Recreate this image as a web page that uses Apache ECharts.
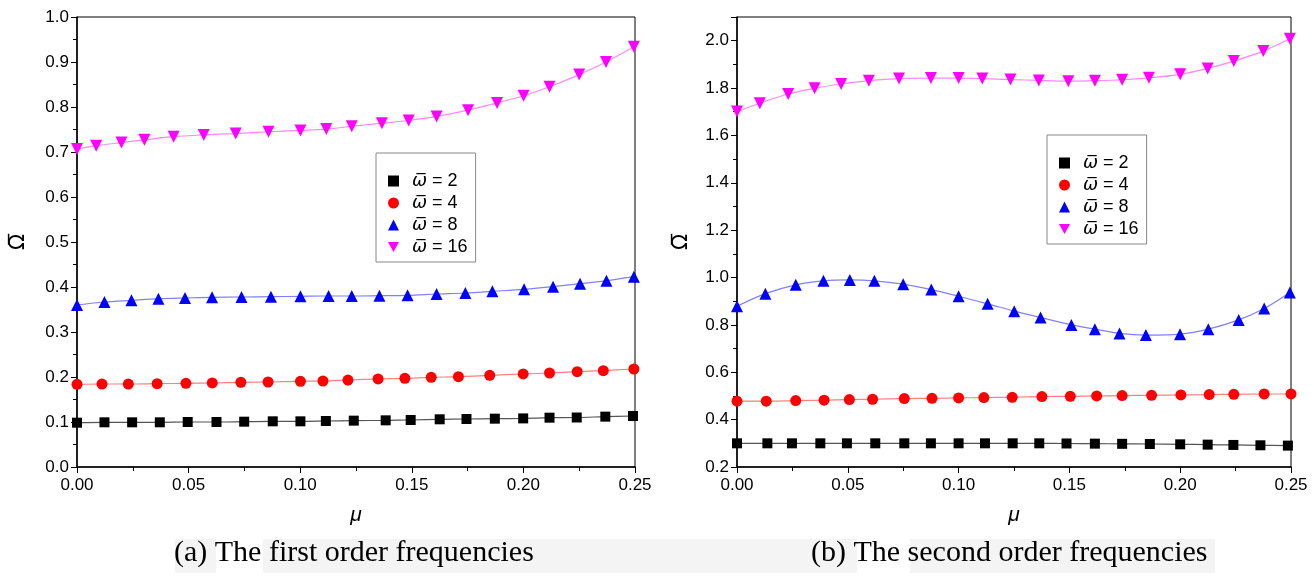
<!DOCTYPE html>
<html>
<head>
<meta charset="utf-8">
<script src="https://cdn.jsdelivr.net/npm/echarts@6/dist/echarts.min.js"></script>
<style>
  html, body { margin: 0; padding: 0; background: #fff; }
  #chart { width: 1314px; height: 576px; }
</style>
</head>
<body>
<div id="chart"></div>
<script>
// (a) first order frequencies
const muA2 = [0, 0.0123, 0.0247, 0.0371, 0.0496, 0.0625, 0.0749, 0.0877, 0.1001, 0.1115, 0.1240, 0.1383, 0.1495, 0.1625, 0.1745, 0.1872, 0.1999, 0.2117, 0.2239, 0.2367, 0.2491];
const omA2 = [0.0985, 0.0993, 0.0993, 0.0993, 0.1000, 0.1000, 0.1007, 0.1015, 0.1015, 0.1022, 0.1030, 0.1037, 0.1044, 0.1060, 0.1067, 0.1074, 0.1080, 0.1096, 0.1100, 0.1119, 0.1133];
const muA4 = [0, 0.0112, 0.0230, 0.0359, 0.0488, 0.0606, 0.0734, 0.0856, 0.1001, 0.1102, 0.1214, 0.1349, 0.1469, 0.1587, 0.1709, 0.1849, 0.1999, 0.2117, 0.2241, 0.2358, 0.2495];
const omA4 = [0.1837, 0.1844, 0.1844, 0.1852, 0.1859, 0.1867, 0.1881, 0.1889, 0.1904, 0.1911, 0.1933, 0.1956, 0.1970, 0.1993, 0.2007, 0.2037, 0.2067, 0.2089, 0.2119, 0.2141, 0.2178];
const muA8 = [0, 0.0123, 0.0244, 0.0365, 0.0484, 0.0605, 0.0737, 0.0869, 0.1001, 0.1127, 0.1231, 0.1355, 0.1481, 0.1611, 0.1740, 0.1861, 0.2003, 0.2133, 0.2254, 0.2372, 0.2495];
const omA8 = [0.360, 0.3667, 0.3704, 0.374, 0.3756, 0.377, 0.3778, 0.3785, 0.3793, 0.380, 0.380, 0.3807, 0.3815, 0.3844, 0.3867, 0.3904, 0.3948, 0.4007, 0.4074, 0.414, 0.4230];
const muA16 = [0, 0.0086, 0.0199, 0.0302, 0.0433, 0.0568, 0.0711, 0.0858, 0.1001, 0.1117, 0.1231, 0.1366, 0.1486, 0.1611, 0.1752, 0.1882, 0.2001, 0.2117, 0.2250, 0.2370, 0.2495];
const omA16 = [0.7067, 0.714, 0.721, 0.727, 0.734, 0.738, 0.741, 0.745, 0.748, 0.751, 0.757, 0.764, 0.770, 0.779, 0.793, 0.809, 0.825, 0.845, 0.872, 0.900, 0.934];

// (b) second order frequencies
const muB2 = [0, 0.0137, 0.0248, 0.0376, 0.0496, 0.0624, 0.0755, 0.0875, 0.1000, 0.1119, 0.1244, 0.1364, 0.1487, 0.1615, 0.1738, 0.1863, 0.2000, 0.2124, 0.2240, 0.2362, 0.2486];
const omB2 = [0.300, 0.300, 0.300, 0.300, 0.300, 0.300, 0.300, 0.300, 0.300, 0.300, 0.300, 0.300, 0.2993, 0.2986, 0.2979, 0.2972, 0.2958, 0.2944, 0.2931, 0.2917, 0.2903];
const muB4 = [0, 0.0132, 0.0265, 0.0393, 0.0507, 0.0612, 0.0755, 0.0880, 0.1000, 0.1114, 0.1242, 0.1376, 0.1504, 0.1623, 0.1738, 0.1871, 0.2003, 0.2131, 0.2242, 0.2379, 0.2500];
const omB4 = [0.4778, 0.4778, 0.4806, 0.482, 0.4847, 0.486, 0.4889, 0.490, 0.4917, 0.493, 0.4944, 0.4972, 0.4986, 0.500, 0.5014, 0.5028, 0.5042, 0.5056, 0.507, 0.5083, 0.5083];
const muB8 = [0, 0.0128, 0.0265, 0.0390, 0.0509, 0.0620, 0.0750, 0.0877, 0.1000, 0.1131, 0.1251, 0.1370, 0.1509, 0.1615, 0.1726, 0.1845, 0.1999, 0.2127, 0.2264, 0.2379, 0.2495];
const omB8 = [0.879, 0.932, 0.969, 0.986, 0.990, 0.986, 0.972, 0.949, 0.921, 0.889, 0.858, 0.831, 0.800, 0.782, 0.764, 0.757, 0.761, 0.782, 0.821, 0.869, 0.937];
const muB16 = [0, 0.0103, 0.0231, 0.0350, 0.0470, 0.0595, 0.0731, 0.0875, 0.1000, 0.1107, 0.1234, 0.1362, 0.1495, 0.1615, 0.1738, 0.1859, 0.2000, 0.2124, 0.2242, 0.2375, 0.2495];
const omB16 = [1.701, 1.736, 1.775, 1.799, 1.817, 1.831, 1.840, 1.842, 1.842, 1.840, 1.836, 1.832, 1.829, 1.831, 1.835, 1.843, 1.858, 1.883, 1.914, 1.956, 2.008];

const names = ['w2', 'w4', 'w8', 'w16'];
const labels = { w2: '2', w4: '4', w8: '8', w16: '16' };
const markColors = ['#000000', '#ff0000', '#0000ff', '#ff00ff'];
const lineColors = ['#555555', '#ff8080', '#8080ff', '#ff88ff'];
const symbols = ['rect', 'circle', 'triangle', 'triangle'];
const symbolSizes = [10, 11, 12, 12];
const rotates = [0, 0, 0, 180];

const zip = (xs, ys) => xs.map((x, i) => [x, ys[i]]);
const dataA = [zip(muA2, omA2), zip(muA4, omA4), zip(muA8, omA8), zip(muA16, omA16)];
const dataB = [zip(muB2, omB2), zip(muB4, omB4), zip(muB8, omB8), zip(muB16, omB16)];

const sans = 'Liberation Sans, Arial, sans-serif';

function xAxis(grid) {
  return {
    type: 'value', gridIndex: grid, min: 0, max: 0.25, interval: 0.05,
    name: 'μ', nameLocation: 'middle', nameGap: 38,
    nameTextStyle: { fontFamily: sans, fontStyle: 'italic', fontSize: 21, color: '#000' },
    axisLine: { lineStyle: { color: '#000', width: 1.5 } },
    axisTick: { length: 6, lineStyle: { color: '#000' } },
    minorTick: { show: true, splitNumber: 2, length: 4, lineStyle: { color: '#000' } },
    splitLine: { show: false },
    axisLabel: { fontFamily: sans, fontSize: 17, color: '#000', margin: 10, formatter: v => v.toFixed(2) }
  };
}

function yAxis(grid, min, max, interval, gap) {
  return {
    type: 'value', gridIndex: grid, min: min, max: max, interval: interval,
    name: 'Ω\u0305', nameLocation: 'middle', nameGap: gap,
    nameTextStyle: { fontFamily: 'DejaVu Sans', fontSize: 21, color: '#000' },
    axisLine: { show: true, lineStyle: { color: '#000', width: 1.5 } },
    axisTick: { show: true, length: 6, lineStyle: { color: '#000' } },
    minorTick: { show: true, splitNumber: 2, length: 4, lineStyle: { color: '#000' } },
    splitLine: { show: false },
    axisLabel: { fontFamily: sans, fontSize: 17, color: '#000', margin: 8, showMaxLabel: max !== 2.1, formatter: v => v.toFixed(1) }
  };
}

function makeSeries(data, axisIdx) {
  return data.map((d, i) => ({
    name: names[i], type: 'line', xAxisIndex: axisIdx, yAxisIndex: axisIdx,
    data: d, smooth: 0.3, clip: true,
    symbol: symbols[i], symbolSize: symbolSizes[i], symbolRotate: rotates[i],
    showAllSymbol: true,
    itemStyle: { color: markColors[i] },
    lineStyle: { color: lineColors[i], width: 1.2 },
    emphasis: { disabled: true },
    z: 2 + i
  }));
}

function legend(left, top) {
  return {
    orient: 'vertical', left: left, top: top,
    selectedMode: false,
    itemWidth: 11, itemHeight: 11, itemGap: 4,
    padding: [19, 8, 6, 12],
    borderColor: '#888', borderWidth: 1,
    data: [
      { name: 'w2', icon: 'rect' },
      { name: 'w4', icon: 'circle' },
      { name: 'w8', icon: 'triangle' },
      { name: 'w16', icon: 'path://M0,0L12,0L6,11Z' }
    ],
    formatter: name => '{g|}{w|ω\u0305}{t| = ' + labels[name] + '}',
    textStyle: {
      color: '#000',
      rich: {
        g: { width: 8, lineHeight: 19 },
        w: { fontFamily: 'DejaVu Sans', fontStyle: 'italic', fontSize: 18, lineHeight: 19, color: '#000' },
        t: { fontFamily: sans, fontSize: 18, lineHeight: 19, color: '#000' }
      }
    }
  };
}

const capFont = '30px "Liberation Serif", "Times New Roman", serif';

const chart = echarts.init(document.getElementById('chart'));
chart.setOption({
  animation: false,
  backgroundColor: '#fff',
  grid: [
    { left: 77, top: 17, width: 558, height: 450, show: true, borderColor: '#000', borderWidth: 1 },
    { left: 737, top: 17, width: 554, height: 450, show: true, borderColor: '#000', borderWidth: 1 }
  ],
  xAxis: [xAxis(0), xAxis(1)],
  yAxis: [yAxis(0, 0, 1, 0.1, 48), yAxis(1, 0.2, 2.1, 0.2, 45)],
  legend: [legend(376, 153), legend(1047, 135)],
  series: makeSeries(dataA, 0).concat(makeSeries(dataB, 1)),
  graphic: [
    { type: 'rect', shape: { x: 175, y: 539, width: 41, height: 34 }, style: { fill: '#f4f4f4' }, z: -1 },
    { type: 'rect', shape: { x: 263, y: 539, width: 594, height: 34 }, style: { fill: '#f4f4f4' }, z: -1 },
    { type: 'rect', shape: { x: 910, y: 539, width: 305, height: 34 }, style: { fill: '#f4f4f4' }, z: -1 },
    { type: 'text', left: 174, top: 538, style: { text: '(a) The first order frequencies', font: capFont, fill: '#000' } },
    { type: 'text', left: 811, top: 538, style: { text: '(b) The second order frequencies', font: capFont, fill: '#000' } }
  ]
});
</script>
</body>
</html>
